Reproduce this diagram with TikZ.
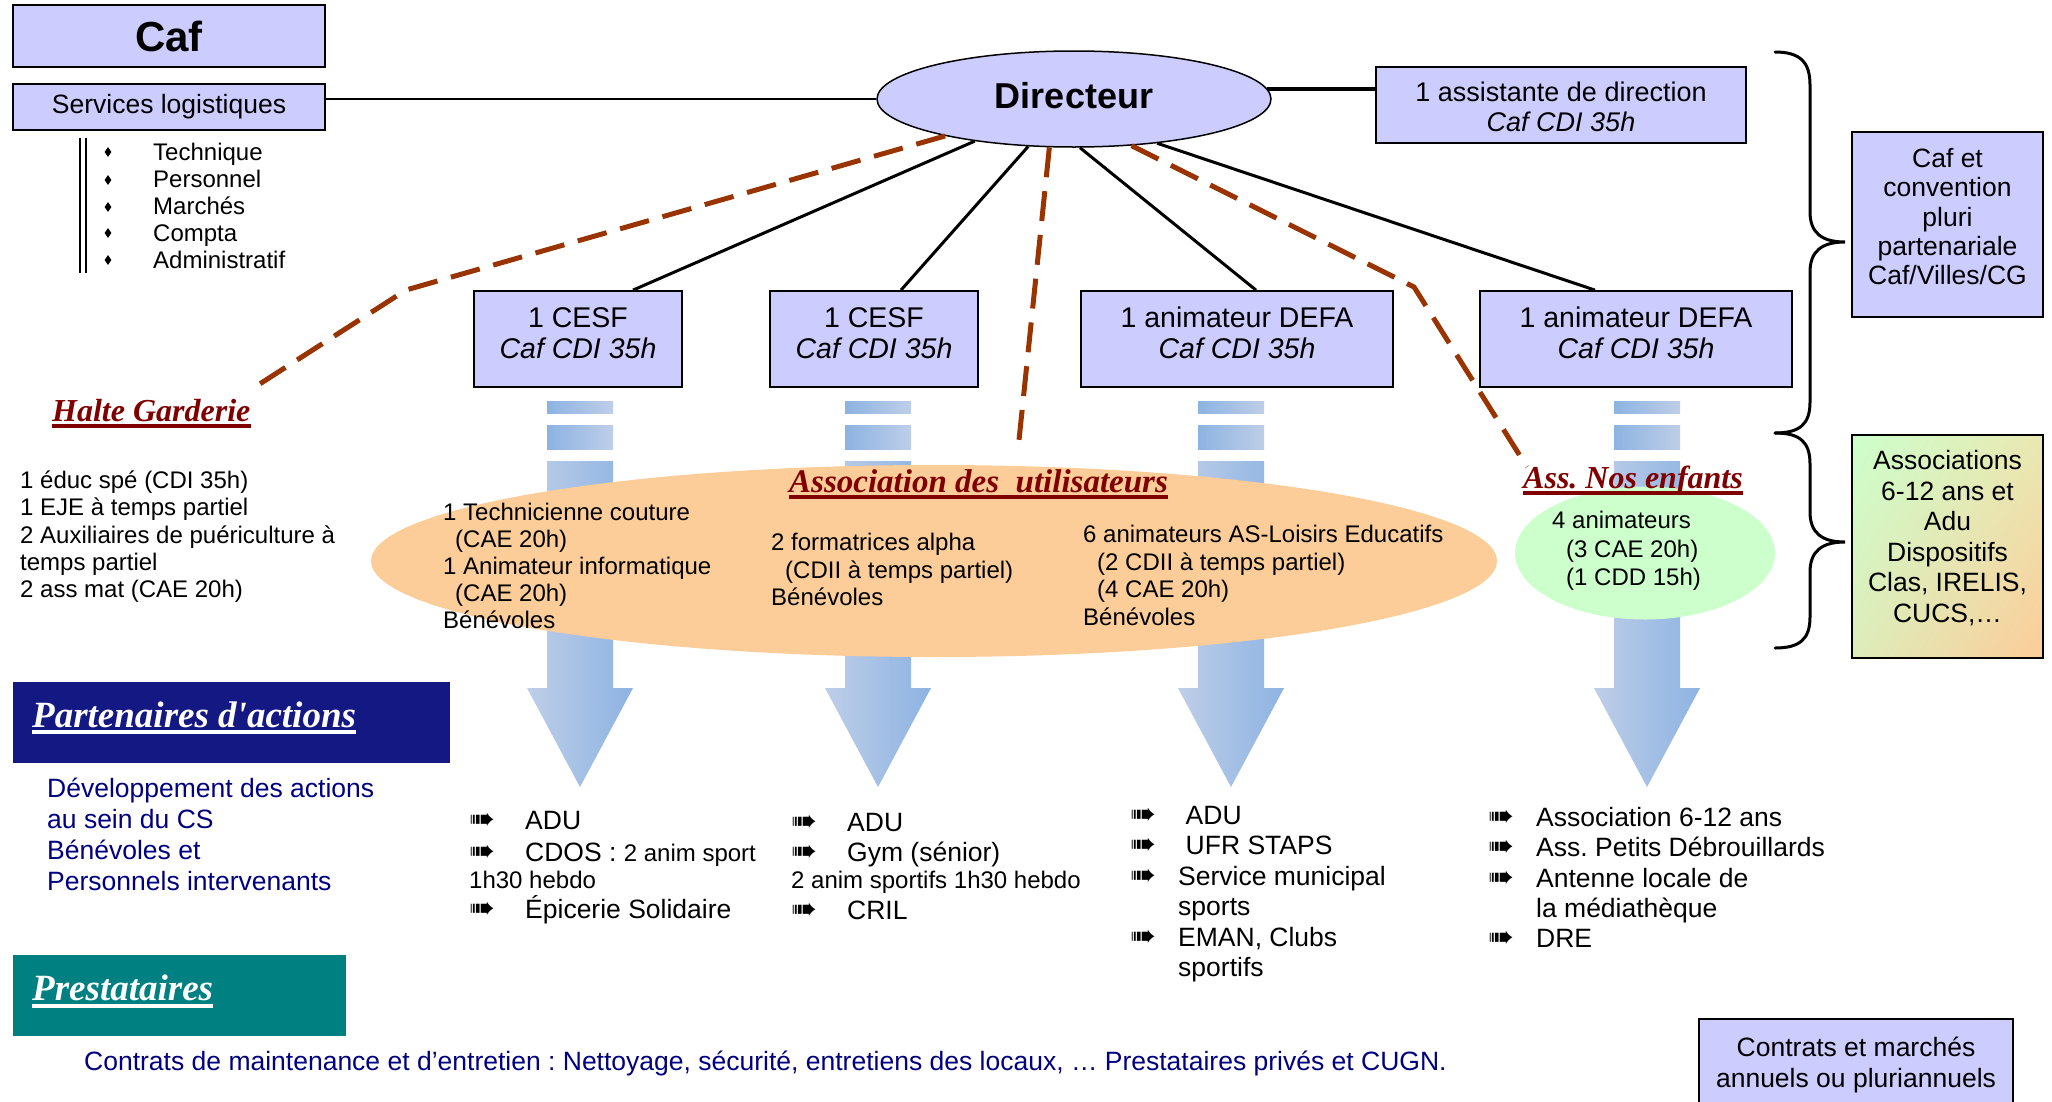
\documentclass[tikz,border=0pt]{standalone}
\usepackage{fontspec}
\setmainfont{Liberation Sans}
\newfontfamily\tnr{Liberation Serif}
\newfontfamily\djv{DejaVu Sans}
\usetikzlibrary{shapes.geometric,calc,shadings}
\definecolor{lav}{RGB}{204,204,255}
\definecolor{dashbrown}{RGB}{153,51,0}
\definecolor{titlered}{RGB}{128,0,0}
\definecolor{navybox}{RGB}{20,24,130}
\definecolor{navytext}{RGB}{0,0,128}
\definecolor{tealbox}{RGB}{0,128,128}
\definecolor{orangeE}{RGB}{252,204,153}
\definecolor{greenE}{RGB}{204,255,204}
\definecolor{barD}{RGB}{141,179,226}
\definecolor{barL}{RGB}{190,206,232}
\definecolor{mixA}{RGB}{234,232,178}
\definecolor{mixB}{RGB}{222,236,186}
\frenchspacing
\newcommand{\fs}[2]{\fontsize{#1}{#2}\selectfont}
\newcommand{\llines}[1]{\begin{tabular}[t]{@{}l@{}}#1\end{tabular}}
\newcommand{\clines}[1]{\begin{tabular}[t]{@{}c@{}}#1\end{tabular}}
\newcommand{\bitem}[5]{\node[icon] (#1i) at (#2,#4) {➠}; \node[txt,font=\fs{26.5}{30}] (#1) at (#3,#4) {#5};}
\newcommand{\ttlline}[2]{\draw[line width=4pt,#2] ([yshift=-4.5pt]#1.base west) -- ([yshift=-4.5pt]#1.base east);}
\begin{document}
\begin{tikzpicture}[x=1pt,y=-1pt,
  box/.style={draw=black, line width=1.8pt, fill=lav, inner sep=0pt},
  txt/.style={inner sep=0pt, anchor=base west},
  icon/.style={inner sep=0pt, anchor=base west, font=\djv\fs{31}{31}},
  ctxt/.style={inner sep=0pt, anchor=base},
  ttl/.style={inner sep=0pt, anchor=base west, font=\tnr\bfseries\itshape\fs{32}{36}, text=titlered},
  conn/.style={line width=3pt},
  dashline/.style={draw=dashbrown, line width=5pt, dash pattern=on 30pt off 14pt}]
\fill[white] (0,0) rectangle (2052,1101);
\useasboundingbox (0,0) rectangle (2052,1101);

% ---------- blue bars and arrows ----------
\foreach \c in {580,878,1231,1647} {
  \shade[left color=barD, right color=barL] (\c-33,401) rectangle (\c+33,413);
  \shade[left color=barD, right color=barL] (\c-33,425) rectangle (\c+33,449);
  \shade[left color=barL, right color=barD] (\c-33,461) -- (\c+33,461) -- (\c+33,688) -- (\c+53,688) -- (\c,787) -- (\c-53,688) -- (\c-33,688) -- cycle;
}

% ---------- ellipses ----------
\node[ellipse, fill=orangeE, minimum width=1126pt, minimum height=192pt, inner sep=0pt] (assoc) at (934,561) {};
\node[ellipse, fill=greenE, minimum width=260pt, minimum height=133pt, inner sep=0pt] (nosenf) at (1645,553) {};

% ---------- top boxes ----------
\node[box, minimum width=312pt, minimum height=62pt, font=\bfseries\fs{42}{46}] (caf) at (169,36) {Caf};
\node[box, minimum width=312pt, minimum height=46pt, font=\fs{26.5}{30}, text height=19pt, text depth=7pt] (svc) at (169,107) {Services logistiques};
\node[ellipse, draw=black, line width=1.5pt, fill=lav, minimum width=394pt, minimum height=96pt, inner sep=0pt, text height=26pt, text depth=8pt, font=\bfseries\fs{36}{40}] (dir) at (1074,99) {Directeur};
\node[box, minimum width=370pt, minimum height=76pt] (asst) at (1561,105) {};
\node[ctxt, font=\fs{27}{30}] (asstt) at (1561,101.5) {\clines{1 assistante de direction\\\itshape Caf CDI 35h}};

\node[box, minimum width=208pt, minimum height=96pt] (cesf1) at (578,339) {};
\node[box, minimum width=208pt, minimum height=96pt] (cesf2) at (874,339) {};
\node[box, minimum width=312pt, minimum height=96pt] (defa1) at (1237,339) {};
\node[box, minimum width=312pt, minimum height=96pt] (defa2) at (1636,339) {};
\node[ctxt, font=\fs{28.5}{31}] (cesf1t) at (578,327) {\clines{1 CESF\\\itshape Caf CDI 35h}};
\node[ctxt, font=\fs{28.5}{31}] (cesf2t) at (874,327) {\clines{1 CESF\\\itshape Caf CDI 35h}};
\node[ctxt, font=\fs{28.5}{31}] (defa1t) at (1237,327) {\clines{1 animateur DEFA\\\itshape Caf CDI 35h}};
\node[ctxt, font=\fs{28.5}{31}] (defa2t) at (1636,327) {\clines{1 animateur DEFA\\\itshape Caf CDI 35h}};

% ---------- connectors ----------
\draw[line width=1.5pt] (dir.west) -- (dir.west -| svc.east);
\draw[line width=4pt] (dir.3) -- (dir.3 -| asst.west);
\draw[conn] (dir.203.3) -- ($(cesf1.north)+(55,0)$);
\draw[conn] (dir.226.8) -- ($(cesf2.north)+(27,0)$);
\draw[conn] (dir.277) -- ($(defa1.north)+(19,0)$);
\draw[conn] (dir.332.6) -- ($(defa2.north)+(-41,0)$);
\coordinate (hgbend) at (406,290);
\coordinate (hgend) at (255,387);
\coordinate (auend) at (1019,440);
\coordinate (nebend) at (1414,287);
\coordinate (neend) at (1527,467);
\draw[dashline] (dir.196) -- (hgbend) -- (hgend);
\draw[dashline] (dir.243.4) -- (auend);
\draw[dashline] (dir.321.6) -- (nebend) -- (neend);

% ---------- services list ----------
\draw[line width=2pt] (80,138) -- (80,273);
\draw[line width=2pt] (86,138) -- (86,273);
\foreach \i/\y in {1/152,2/180,3/207,4/233,5/260}
  \node[diamond, fill=black, inner sep=0pt, minimum width=7pt, minimum height=10pt] (bul\i) at (108,\y) {};
\node[txt, font=\fs{24}{27}] (svclist) at (153,160.5) {\llines{Technique\\Personnel\\Marchés\\Compta\\Administratif}};

% ---------- right side ----------
\draw[line width=3pt, line cap=round] (1775,52) .. controls (1800,52) and (1810,62) .. (1810,85) -- (1810,212) .. controls (1810,233) and (1822,242) .. (1845,242) .. controls (1822,242) and (1810,251) .. (1810,272) -- (1810,402) .. controls (1810,424) and (1800,433) .. (1775,433);
\draw[line width=3pt, line cap=round] (1775,433) .. controls (1800,433) and (1810,442) .. (1810,464) -- (1810,512) .. controls (1810,533) and (1822,542) .. (1845,542) .. controls (1822,542) and (1810,551) .. (1810,572) -- (1810,617) .. controls (1810,639) and (1800,648) .. (1775,648);
\node[box, minimum width=191pt, minimum height=185pt] (cafet) at (1947.5,224.5) {};
\node[ctxt, font=\fs{26.5}{29.3}] (cafett) at (1947.5,167.5) {\clines{Caf et\\convention\\pluri\\partenariale\\Caf/Villes/CG}};
\node[draw=black, line width=1.8pt, inner sep=0pt, minimum width=191pt, minimum height=223pt, upper left=greenE, upper right=mixA, lower left=mixB, lower right=orangeE] (assocb) at (1947.5,546.5) {};
\node[ctxt, font=\fs{26.5}{30.6}] (assocbt) at (1947.5,469.5) {\clines{Associations\\6-12 ans et\\Adu\\Dispositifs\\Clas, IRELIS,\\CUCS,\dots}};

% ---------- Halte garderie ----------
\node[ttl] (hg) at (52,421) {Halte Garderie};
\ttlline{hg}{titlered}
\node[txt, font=\fs{24}{27.3}] (hgt) at (20,488.5) {\llines{1 éduc spé (CDI 35h)\\1 EJE à temps partiel\\2 Auxiliaires de puériculture à\\temps partiel\\2 ass mat (CAE 20h)}};

% ---------- association texts ----------
\node[ttl, font=\tnr\bfseries\itshape\fs{33}{36}] (au) at (789,492) {Association des~~utilisateurs};
\ttlline{au}{titlered}
\node[txt, font=\fs{24}{27}] (c1) at (443,520.5) {\llines{1 Technicienne couture\\\hspace{12pt}(CAE 20h)\\1 Animateur informatique\\\hspace{12pt}(CAE 20h)\\Bénévoles}};
\node[txt, font=\fs{24}{27.5}] (c2) at (771,550.5) {\llines{2 formatrices alpha\\\hspace{14pt}(CDII à temps partiel)\\Bénévoles}};
\node[txt, font=\fs{24}{27.5}] (c3) at (1083,542.5) {\llines{6 animateurs AS-Loisirs Educatifs\\\hspace{14pt}(2 CDII à temps partiel)\\\hspace{14pt}(4 CAE 20h)\\Bénévoles}};
\node[ttl] (ne) at (1523,488) {Ass. Nos enfants};
\ttlline{ne}{titlered}
\node[txt, font=\fs{24}{28.5}] (c4) at (1552,528.5) {\llines{4 animateurs\\\hspace{14pt}(3 CAE 20h)\\\hspace{14pt}(1 CDD 15h)}};

% ---------- bottom lists ----------
\bitem{a1}{469}{525}{829.5}{ADU}
\node[icon] (a2i) at (469,861.5) {➠};
\node[txt] (a2) at (525,861.5) {{\fs{26.5}{30}CDOS :\ }{\fs{24}{27}2 anim sport}};
\node[txt, font=\fs{24}{27}] (a3) at (469,888.6) {1h30 hebdo};
\bitem{a4}{469}{525}{918.5}{Épicerie Solidaire}

\bitem{b1}{791}{847}{831.5}{ADU}
\bitem{b2}{791}{847}{861.5}{Gym (sénior)}
\node[txt, font=\fs{24}{27}] (b3) at (791,888.6) {2 anim sportifs 1h30 hebdo};
\bitem{b4}{791}{847}{919.5}{CRIL}

\bitem{d1}{1130}{1185.5}{824.5}{ADU}
\bitem{d2}{1130}{1185.5}{854.9}{UFR STAPS}
\bitem{d3}{1130}{1178}{885.3}{Service municipal}
\node[txt, font=\fs{26.5}{30}] (d4) at (1178,915.7) {sports};
\bitem{d5}{1130}{1178}{946.1}{EMAN, Clubs}
\node[txt, font=\fs{26.5}{30}] (d6) at (1178,976.5) {sportifs};

\bitem{e1}{1488}{1536}{826.5}{Association 6-12 ans}
\bitem{e2}{1488}{1536}{856.8}{Ass. Petits Débrouillards}
\bitem{e3}{1488}{1536}{887.1}{Antenne locale de}
\node[txt, font=\fs{26.5}{30}] (e4) at (1536,917.4) {la médiathèque};
\bitem{e5}{1488}{1536}{947.7}{DRE}

% ---------- partenaires / prestataires ----------
\node[fill=navybox, inner sep=0pt, minimum width=437pt, minimum height=81pt] (part) at (231.5,722.5) {};
\node[ttl, font=\tnr\bfseries\itshape\fs{37}{40}, text=white] (partt) at (32,727) {Partenaires d'actions};
\draw[line width=4pt, white] ([yshift=-5pt]partt.base west) -- ([yshift=-5pt]partt.base east);
\node[txt, font=\fs{26.5}{31}, text=navytext] (partx) at (47,797.5) {\llines{Développement des actions\\au sein du CS\\Bénévoles et\\Personnels intervenants}};

\node[fill=tealbox, inner sep=0pt, minimum width=333pt, minimum height=81pt] (prest) at (179.5,995.5) {};
\node[ttl, font=\tnr\bfseries\itshape\fs{37}{40}, text=white] (prestt) at (32,1000) {Prestataires};
\draw[line width=4pt, white] ([yshift=-5.5pt]prestt.base west) -- ([yshift=-5.5pt]prestt.base east);
\node[txt, font=\fs{26.5}{30}, text=navytext] (prestx) at (84,1070.5) {Contrats de maintenance et d’entretien : Nettoyage, sécurité, entretiens des locaux, … Prestataires privés et CUGN.};

\node[box, minimum width=314pt, minimum height=96pt] (contr) at (1856,1067) {};
\node[ctxt, font=\fs{26.5}{31}] (contrt) at (1856,1056.5) {\clines{Contrats et marchés\\annuels ou pluriannuels}};
\end{tikzpicture}
\end{document}
